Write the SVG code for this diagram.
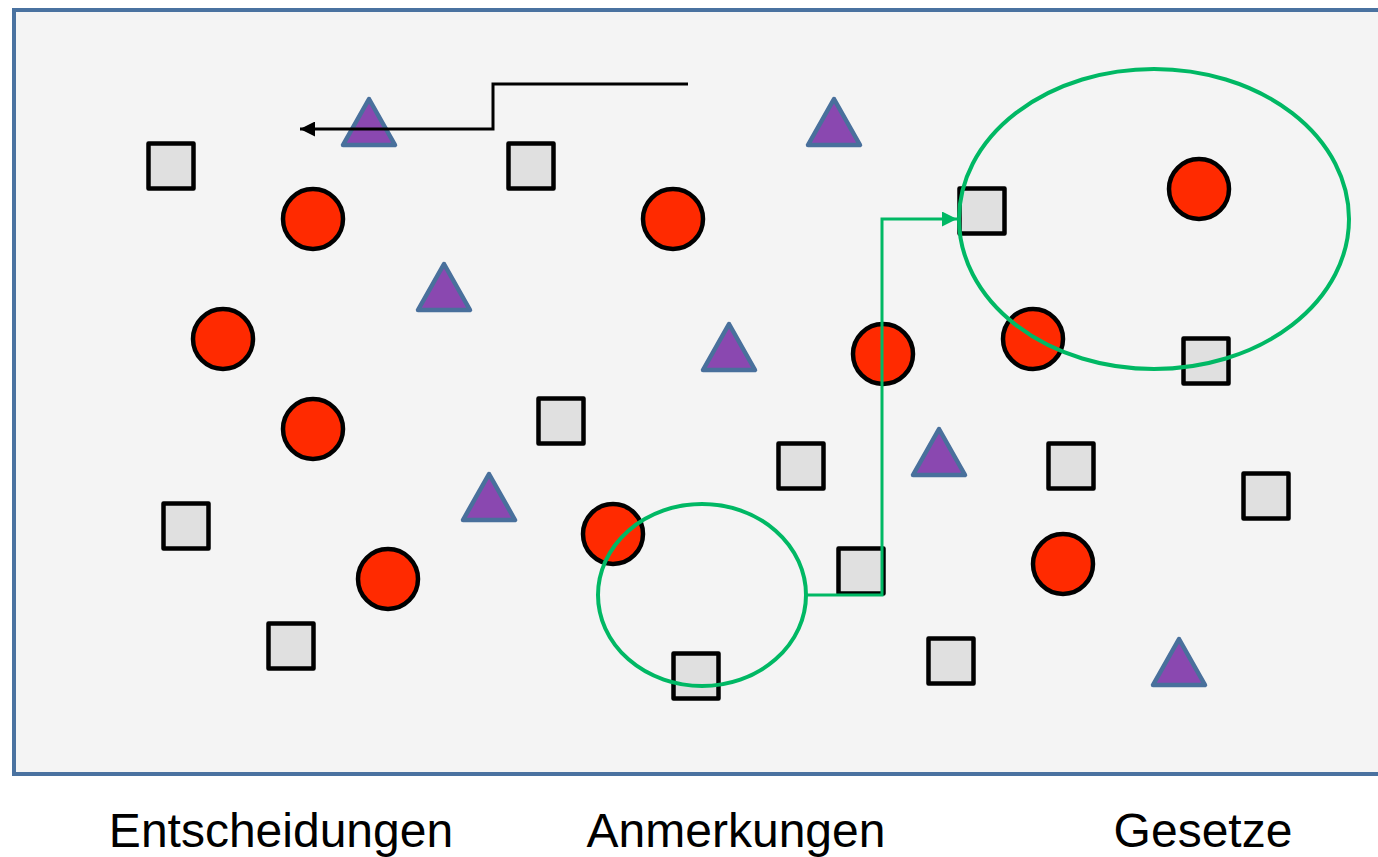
<svg xmlns="http://www.w3.org/2000/svg" width="1378" height="857" viewBox="0 0 1378 857">
<defs>
<style>
.panel{fill:#f4f4f4;stroke:#4a72a0;stroke-width:4}
.sq{fill:#e0e0e0;stroke:#000;stroke-width:4.5;stroke-linejoin:round}
.ci{fill:#ff2a00;stroke:#000;stroke-width:4.5}
.tr{fill:#8a48b0;stroke:#49709c;stroke-width:4.5;stroke-linejoin:round}
.ring{fill:none;stroke:#00b864;stroke-width:4}
.blk{fill:none;stroke:#000;stroke-width:3}
.grn{fill:none;stroke:#00b864;stroke-width:3}
.lbl{font-family:"Liberation Sans",Arial,sans-serif;font-size:48px;fill:#000;text-anchor:middle}
</style>
<marker id="ab" viewBox="0 0 10 10" refX="10" refY="5" markerWidth="5" markerHeight="5" markerUnits="strokeWidth" orient="auto"><path d="M0,0 L10,5 L0,10 Z" fill="#000"/></marker>
<marker id="ag" viewBox="0 0 10 10" refX="10" refY="5" markerWidth="5" markerHeight="5" markerUnits="strokeWidth" orient="auto"><path d="M0,0 L10,5 L0,10 Z" fill="#00b864"/></marker>
</defs>
<rect width="1378" height="857" fill="#fff"/>
<rect class="panel" x="14" y="10" width="1380" height="764"/>
<g id="squares">
<rect id="s1" class="sq" x="148.5" y="143.5" width="45" height="45"/>
<rect id="s2" class="sq" x="508.5" y="143.5" width="45" height="45"/>
<rect id="s4" class="sq" x="1183.5" y="338.5" width="45" height="45"/>
<rect id="s5" class="sq" x="538.5" y="398.5" width="45" height="45"/>
<rect id="s6" class="sq" x="778.5" y="443.5" width="45" height="45"/>
<rect id="s7" class="sq" x="1048.5" y="443.5" width="45" height="45"/>
<rect id="s8" class="sq" x="1243.5" y="473.5" width="45" height="45"/>
<rect id="s9" class="sq" x="163.5" y="503.5" width="45" height="45"/>
<rect id="s10" class="sq" x="838.5" y="548.5" width="45" height="45"/>
<rect id="s11" class="sq" x="268.5" y="623.5" width="45" height="45"/>
<rect id="s12" class="sq" x="928.5" y="638.5" width="45" height="45"/>
<rect id="s13" class="sq" x="673.5" y="653.5" width="45" height="45"/>
<rect id="s3" class="sq" x="959.5" y="188.5" width="45" height="45"/>
</g>
<g id="circles">
<circle id="c1" class="ci" cx="313" cy="219" r="30"/>
<circle id="c2" class="ci" cx="673" cy="219" r="30"/>
<circle id="c3" class="ci" cx="1199" cy="189" r="30"/>
<circle id="c4" class="ci" cx="223" cy="339" r="30"/>
<circle id="c5" class="ci" cx="883" cy="354" r="30"/>
<circle id="c6" class="ci" cx="1033" cy="339" r="30"/>
<circle id="c7" class="ci" cx="313" cy="429" r="30"/>
<circle id="c8" class="ci" cx="613" cy="534" r="30"/>
<circle id="c9" class="ci" cx="388" cy="579" r="30"/>
<circle id="c10" class="ci" cx="1063" cy="564" r="30"/>
</g>
<g id="triangles">
<polygon id="t1" class="tr" points="369,99 395,145 343,145"/>
<polygon id="t2" class="tr" points="834,99 860,145 808,145"/>
<polygon id="t3" class="tr" points="444,264 470,310 418,310"/>
<polygon id="t4" class="tr" points="729,324 755,370 703,370"/>
<polygon id="t5" class="tr" points="939,429 965,475 913,475"/>
<polygon id="t6" class="tr" points="489,474 515,520 463,520"/>
<polygon id="t7" class="tr" points="1179,639 1205,685 1153,685"/>
</g>
<g id="groups">
<ellipse id="g1" class="ring" cx="1154" cy="219" rx="195" ry="150"/>
<ellipse id="g2" class="ring" cx="702" cy="595" rx="104" ry="91"/>
</g>
<g id="connectors">
<path class="blk" d="M688,84 H493 V129 H300" marker-end="url(#ab)"/>
<path class="grn" d="M806,595 H882 V219 H957" marker-end="url(#ag)"/>
</g>
<g id="labels">
<text class="lbl" x="281" y="847">Entscheidungen</text>
<text class="lbl" x="736" y="847">Anmerkungen</text>
<text class="lbl" x="1203" y="847">Gesetze</text>
</g>
</svg>
